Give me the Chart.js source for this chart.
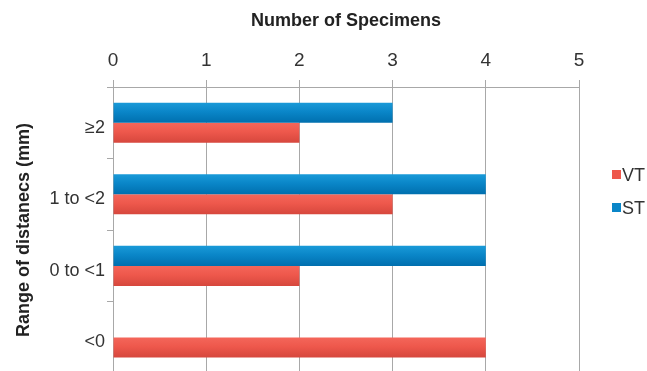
<!DOCTYPE html>
<html>
<head>
<meta charset="utf-8">
<script src="https://cdn.jsdelivr.net/npm/chart.js@4/dist/chart.umd.min.js"></script>
<style>
  html, body { margin: 0; padding: 0; overflow: hidden; background: #fff; }
  #wrap { width: 647px; height: 386px; position: relative; }
</style>
</head>
<body>
<div id="wrap"><canvas id="c"></canvas></div>
<script>
// Distance ranges, top to bottom
const categories = ['≥2', '1 to <2', '0 to <1', '<0'];
// Specimen counts per range
const stValues = [3, 4, 4, 0];
const vtValues = [2, 3, 2, 4];
// Count axis ticks
const countTicks = [0, 1, 2, 3, 4, 5];

const FONT = '"Liberation Sans", Arial, Helvetica, sans-serif';
const GRID = '#a8a8a8';
const TEXT = '#333333';

// Vertical shading on each bar (light top, darker bottom)
const barShade = {
  id: 'barShade',
  beforeDatasetsDraw(chart) {
    const ctx = chart.ctx;
    chart.data.datasets.forEach((ds, i) => {
      chart.getDatasetMeta(i).data.forEach(bar => {
        const top = bar.y - bar.height / 2;
        const bot = bar.y + bar.height / 2;
        const g = ctx.createLinearGradient(0, top, 0, bot);
        g.addColorStop(0, ds.shade[0]);
        g.addColorStop(0.45, ds.shade[1]);
        g.addColorStop(1, ds.shade[2]);
        bar.options.backgroundColor = g;
      });
    });
  }
};

// Legend drawn to the right of the plot
const sideLegend = {
  id: 'sideLegend',
  afterDraw(chart) {
    const ctx = chart.ctx;
    const items = chart.data.datasets.slice().reverse();
    ctx.save();
    ctx.font = '18px ' + FONT;
    ctx.textBaseline = 'middle';
    ctx.textAlign = 'left';
    items.forEach((ds, i) => {
      const y = 175 + i * 33;
      ctx.fillStyle = ds.shade[1];
      ctx.fillRect(612, y - 5, 9, 9);
      ctx.fillStyle = TEXT;
      ctx.fillText(ds.label, 622, y + 1);
    });
    ctx.restore();
  }
};

new Chart(document.getElementById('c'), {
  type: 'bar',
  data: {
    labels: categories,
    datasets: [
      {
        label: 'ST',
        data: stValues,
        shade: ['#1a9ad8', '#0a86c8', '#006fae'],
        backgroundColor: () => '#0a86c8',
        borderWidth: 0
      },
      {
        label: 'VT',
        data: vtValues,
        shade: ['#f4665a', '#ee584c', '#d6473d'],
        backgroundColor: () => '#ee584c',
        borderWidth: 0
      }
    ]
  },
  options: {
    indexAxis: 'y',
    responsive: true,
    maintainAspectRatio: false,
    animation: false,
    datasets: { bar: { categoryPercentage: 0.56, barPercentage: 1.0 } },
    layout: { padding: { left: 0, right: 68, top: 0, bottom: 1 } },
    plugins: {
      legend: { display: false },
      tooltip: { enabled: false }
    },
    scales: {
      x: {
        position: 'top',
        min: 0,
        max: 5,
        afterBuildTicks(scale) {
          scale.ticks = countTicks.map(v => ({ value: v }));
        },
        afterFit(scale) { scale.height = 87; },
        grid: {
          color: GRID,
          lineWidth: 1,
          drawTicks: true,
          tickLength: 7,
          tickColor: GRID
        },
        border: { color: GRID, width: 1 },
        ticks: {
          color: TEXT,
          font: { family: FONT, size: 19 },
          padding: 8
        },
        title: {
          display: true,
          text: 'Number of Specimens',
          color: '#222',
          font: { family: FONT, size: 18, weight: 'bold' },
          padding: { top: 10, bottom: 0 }
        }
      },
      y: {
        afterFit(scale) { scale.width = 113; },
        grid: {
          offset: true,
          drawOnChartArea: false,
          drawTicks: true,
          tickLength: 6,
          tickColor: GRID
        },
        border: { color: GRID, width: 1 },
        ticks: {
          color: TEXT,
          font: { family: FONT, size: 18 },
          padding: 2,
          labelOffset: 5
        },
        title: {
          display: true,
          text: 'Range of distanecs (mm)',
          color: '#222',
          font: { family: FONT, size: 18, weight: 'bold' },
          padding: { top: 13, bottom: 0 }
        }
      }
    }
  },
  plugins: [barShade, sideLegend]
});
</script>
</body>
</html>
